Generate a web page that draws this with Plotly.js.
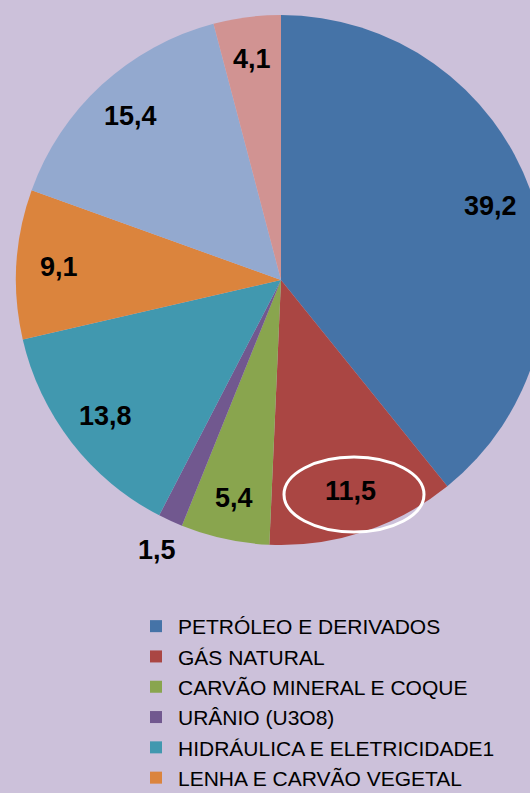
<!DOCTYPE html>
<html>
<head>
<meta charset="utf-8">
<script src="https://cdn.plot.ly/plotly-3.0.1.min.js"></script>
<style>
html,body{margin:0;padding:0;overflow:hidden;background:#CCC1DA;}
#chart{width:560px;height:793px;}
</style>
</head>
<body>
<div id="chart"></div>
<script>
const categories = [
  "PETRÓLEO E DERIVADOS",
  "GÁS NATURAL",
  "CARVÃO MINERAL E COQUE",
  "URÂNIO (U3O8)",
  "HIDRÁULICA E ELETRICIDADE1",
  "LENHA E CARVÃO VEGETAL",
  "PRODUTOS DA CANA-DE-AÇÚCAR",
  "OUTRAS FONTES PRIMÁRIAS"
];
const values = [39.2, 11.5, 5.4, 1.5, 13.8, 9.1, 15.4, 4.1];
const colors = ["#4573A7", "#AA4643", "#89A54E", "#71588F", "#4198AF", "#DB843D", "#93A9CF", "#D19392"];

// layout geometry (pixels)
const W = 560, H = 793;
const CX = 281, CY = 280, R = 265;
const px2x = p => p / W;
const py2y = p => 1 - p / H;

// data labels placed from the slice angles
const total = values.reduce((a, b) => a + b, 0);
let cum = 0;
const annotations = values.map(v => {
  const mid = (cum + v / 2) / total;
  cum += v;
  const th = mid * 2 * Math.PI;
  const f = (v / total < 0.02) ? 1.12 : 0.84;
  const x = CX + f * R * Math.sin(th);
  const y = CY - f * R * Math.cos(th);
  return {
    x: px2x(x), y: py2y(y), xref: "paper", yref: "paper",
    text: v.toFixed(1).replace(".", ","), showarrow: false,
    xanchor: "center", yanchor: "middle",
    font: {family: "Liberation Sans, Arial, sans-serif", size: 27, color: "#000", weight: "bold"}
  };
});

const trace = {
  type: "pie",
  labels: categories,
  values: values,
  sort: false,
  direction: "clockwise",
  rotation: 0,
  marker: {colors: colors, line: {width: 0}},
  textinfo: "none",
  hoverinfo: "none",
  domain: {x: [px2x(CX - R), px2x(CX + R)], y: [py2y(CY + R), py2y(CY - R)]}
};

const layout = {
  width: W, height: H,
  margin: {l: 0, r: 0, t: 0, b: 0, autoexpand: false},
  paper_bgcolor: "#CCC1DA",
  plot_bgcolor: "#CCC1DA",
  separators: ",.",
  showlegend: true,
  legend: {
    x: px2x(134), xanchor: "left",
    y: py2y(606), yanchor: "top",
    orientation: "v",
    itemwidth: 34,
    bgcolor: "rgba(0,0,0,0)",
    font: {family: "Liberation Sans, Arial, sans-serif", size: 21, color: "#000"}
  },
  annotations: annotations,
  shapes: [{
    type: "circle", xref: "paper", yref: "paper",
    x0: px2x(284), x1: px2x(424), y0: py2y(532), y1: py2y(457),
    line: {color: "#FFFFFF", width: 3}, fillcolor: "rgba(0,0,0,0)"
  }]
};

Plotly.newPlot("chart", [trace], layout, {displayModeBar: false, staticPlot: true});
</script>
</body>
</html>
